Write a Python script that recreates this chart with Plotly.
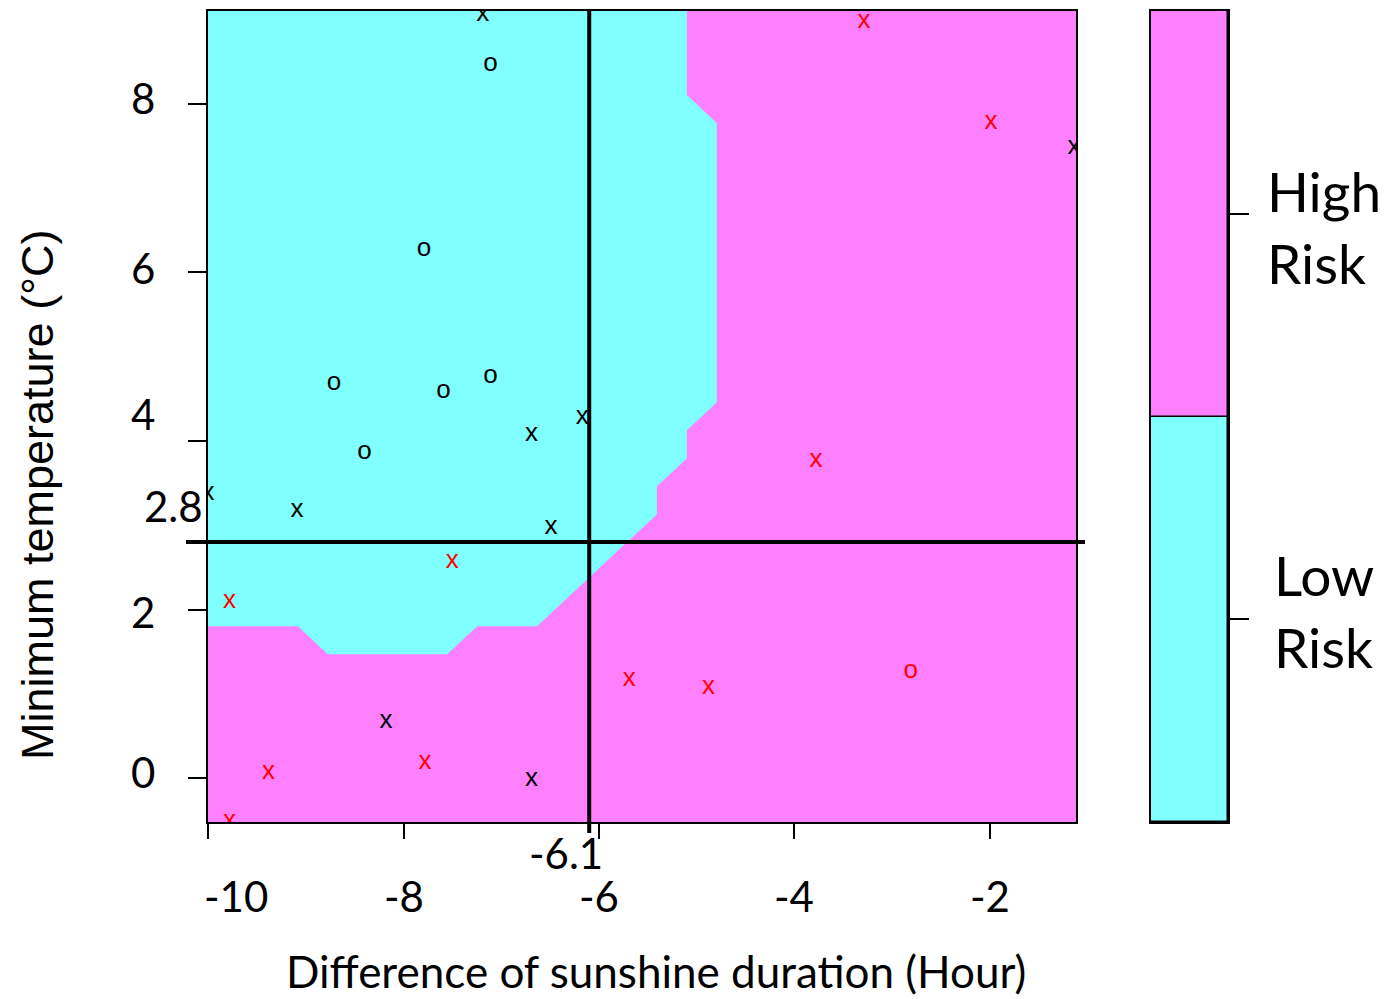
import numpy as np
import plotly.graph_objects as go

# ---- predictor ranges (min / max of the observations) ----
x_min, x_max = -10.0, -1.12
y_min, y_max = -0.52, 9.10

# ---- SVM decision grid: 30 x 30, rows listed bottom -> top ----
grid_n = 30
# first / last column index predicted "Low Risk" in each row (None: whole row "High Risk")
low_first = [None, None, None, None, None, None, None, 4,
             0, 0, 0, 0, 0, 0, 0,
             0, 0, 0, 0, 0, 0, 0, 0, 0, 0, 0,
             0, 0, 0, 0]
low_last = [None, None, None, None, None, None, None, 8,
            11, 12, 13, 14, 14, 15, 15,
            16, 16, 16, 16, 16, 16, 16, 16, 16, 16, 16,
            15, 15, 15, 15]

# ---- observations ----
# support vectors (drawn as "x") and other points (drawn as "o"), by true class
low_sv_x = [-7.19, -1.14, -6.17, -6.69, -10.0, -9.09, -6.49, -8.18, -6.69]
low_sv_y = [9.06, 7.48, 4.28, 4.08, 3.38, 3.17, 2.97, 0.67, -0.02]
low_pt_x = [-7.11, -7.79, -8.71, -7.59, -7.11, -8.40]
low_pt_y = [8.47, 6.27, 4.68, 4.59, 4.77, 3.86]
high_sv_x = [-3.29, -1.99, -3.78, -7.50, -9.78, -5.69, -4.88, -9.38, -7.78, -9.78]
high_sv_y = [8.98, 7.78, 3.77, 2.57, 2.09, 1.17, 1.08, 0.07, 0.19, -0.51]
high_pt_x = [-2.81]
high_pt_y = [1.27]

# ---- thresholds ----
x_cut = -6.1
y_cut = 2.8

# ---- ticks and labels ----
x_ticks = [-10, -8, -6, -4, -2]
x_tick_labels = ["-10", "-8", "-6", "-4", "-2"]
y_ticks = [0, 2, 4, 6, 8]
y_tick_labels = ["0", "2", "4", "6", "8"]
classes = ["Low Risk", "High Risk"]
class_labels = ["Low<br>Risk", "High<br>Risk"]

CYAN = "#80FFFF"
MAGENTA = "#FF80FF"
W, H = 1389, 999
LABEL_FONT = "Lato, 'Open Sans', sans-serif"
SYMBOL_FONT = "'Liberation Sans', Arial, sans-serif"

# class matrix: 0 = Low Risk, 1 = High Risk
z = np.ones((grid_n, grid_n))
for j, (a, b) in enumerate(zip(low_first, low_last)):
    if a is not None:
        z[j, a:b + 1] = 0
xg = np.linspace(x_min, x_max, grid_n)
yg = np.linspace(y_min, y_max, grid_n)

fig = go.Figure()

fig.add_trace(go.Contour(
    x=xg, y=yg, z=z,
    contours=dict(start=0.999, end=0.999, size=1, coloring="fill", showlines=False),
    colorscale=[[0, CYAN], [1, MAGENTA]],
    line=dict(width=0, smoothing=0),
    showscale=False, hoverinfo="skip",
))


def symbols(xs, ys, ch, color):
    return go.Scatter(
        x=xs, y=ys, mode="text", text=[ch] * len(xs),
        textposition="middle center",
        textfont=dict(family=SYMBOL_FONT, size=26, color=color),
        cliponaxis=True, hoverinfo="skip",
    )


fig.add_trace(symbols(low_pt_x, low_pt_y, "o", "black"))
fig.add_trace(symbols(low_sv_x, low_sv_y, "x", "black"))
fig.add_trace(symbols(high_pt_x, high_pt_y, "o", "red"))
fig.add_trace(symbols(high_sv_x, high_sv_y, "x", "red"))

# colour key
fig.add_trace(go.Bar(
    x=[0, 0], y=[1, 1], base=[0, 1], width=1,
    marker=dict(color=[CYAN, MAGENTA], line=dict(color="black", width=1.5)),
    xaxis="x2", yaxis="y2", hoverinfo="skip", name="key",
    customdata=classes,
))

px2x = lambda p: p / W
px2y = lambda p: (H - p) / H

dom_y = [px2y(822), px2y(11)]
fig.update_layout(
    width=W, height=H,
    margin=dict(l=0, r=0, t=0, b=0),
    paper_bgcolor="white", plot_bgcolor="white",
    showlegend=False,
    xaxis=dict(domain=[px2x(208), px2x(1076)], range=[x_min, x_max],
               showline=True, linecolor="black", linewidth=2, mirror=True,
               ticks="outside", ticklen=15, tickwidth=1.5, tickcolor="black",
               tickvals=x_ticks, showticklabels=False,
               showgrid=False, zeroline=False),
    yaxis=dict(domain=dom_y, range=[y_min, y_max],
               showline=True, linecolor="black", linewidth=2, mirror=True,
               ticks="outside", ticklen=18, tickwidth=1.5, tickcolor="black",
               tickvals=y_ticks, showticklabels=False,
               showgrid=False, zeroline=False),
    xaxis2=dict(domain=[px2x(1151), px2x(1228)], range=[-0.5, 0.5], anchor="y2",
                showline=True, linecolor="black", linewidth=2, mirror=True,
                showticklabels=False, ticks="", showgrid=False, zeroline=False),
    yaxis2=dict(domain=dom_y, range=[0, 2], anchor="x2", side="right",
                showline=True, linecolor="black", linewidth=2, mirror=True,
                ticks="outside", ticklen=19, tickwidth=1.5, tickcolor="black",
                tickvals=[0.5, 1.5], showticklabels=False,
                showgrid=False, zeroline=False),
    bargap=0,
)

# threshold lines
fig.add_shape(type="line", xref="x", yref="paper", x0=x_cut, x1=x_cut,
              y0=px2y(833), y1=px2y(11), line=dict(color="black", width=4))
fig.add_shape(type="line", xref="paper", yref="y", x0=px2x(186), x1=px2x(1085),
              y0=y_cut, y1=y_cut, line=dict(color="black", width=4))

ann = []
tick_font = dict(family=LABEL_FONT, size=42, color="black")
x_label_shift = {"-10": 28}
for v, t in zip(x_ticks, x_tick_labels):
    ann.append(dict(x=v, xref="x", y=px2y(896), yref="paper", text=t,
                    xanchor="center", yanchor="middle", showarrow=False,
                    xshift=x_label_shift.get(t, 0), font=tick_font))
y_label_shift = {"0": 6, "2": -2, "4": 27, "6": 4, "8": 6}
for v, t in zip(y_ticks, y_tick_labels):
    ann.append(dict(x=px2x(143), xref="paper", y=v, yref="y", text=t,
                    xanchor="center", yanchor="middle", showarrow=False,
                    yshift=y_label_shift.get(t, 0), font=tick_font))

# threshold labels
ann.append(dict(x=px2x(205), xref="paper", y=y_cut, yref="y", text=f"{y_cut:g}",
                xanchor="right", yanchor="middle", showarrow=False, yshift=36,
                font=tick_font))
ann.append(dict(x=x_cut, xref="x", y=px2y(853), yref="paper", text=f"{x_cut:g}",
                xanchor="right", yanchor="middle", showarrow=False, xshift=16,
                font=tick_font))

# axis titles
ann.append(dict(x=px2x(656), xref="paper", y=px2y(971), yref="paper",
                text="Difference of sunshine duration (Hour)",
                xanchor="center", yanchor="middle", showarrow=False,
                font=dict(family=LABEL_FONT, size=44, color="black")))
ann.append(dict(x=px2x(37), xref="paper", y=px2y(495), yref="paper",
                text="Minimum temperature (°C)", textangle=-90,
                xanchor="center", yanchor="middle", showarrow=False,
                font=dict(family=SYMBOL_FONT, size=45, color="black")))

# key labels
key_x = {"Low<br>Risk": 1272, "High<br>Risk": 1265}
key_shift = {"Low<br>Risk": 8, "High<br>Risk": -13}
for v, t in zip([0.5, 1.5], class_labels):
    ann.append(dict(x=px2x(key_x[t]), xref="paper", y=v, yref="y2", text=t,
                    xanchor="left", yanchor="middle", align="left",
                    showarrow=False, yshift=key_shift[t],
                    font=dict(family=LABEL_FONT, size=55, color="black")))

fig.update_layout(annotations=ann)
fig.write_html("out.html")
